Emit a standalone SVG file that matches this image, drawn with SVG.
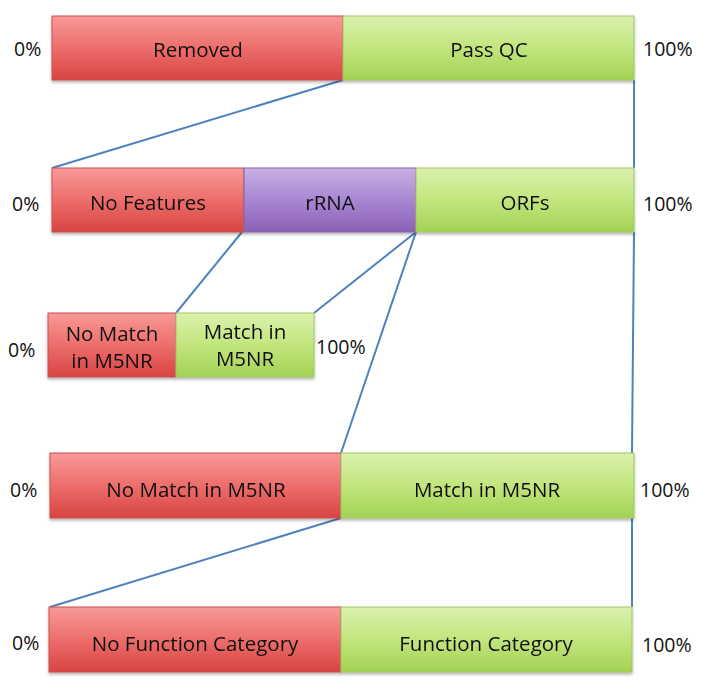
<svg xmlns="http://www.w3.org/2000/svg" width="703" height="699" viewBox="0 0 703 699">
<defs>
<linearGradient id="gr" x1="0" y1="0" x2="0" y2="1"><stop offset="0" stop-color="#f89a98"/><stop offset="0.5" stop-color="#ec6e6c"/><stop offset="1" stop-color="#d84442"/></linearGradient>
<linearGradient id="gg" x1="0" y1="0" x2="0" y2="1"><stop offset="0" stop-color="#d9f2ae"/><stop offset="0.5" stop-color="#c2e57e"/><stop offset="1" stop-color="#a3d253"/></linearGradient>
<linearGradient id="gp" x1="0" y1="0" x2="0" y2="1"><stop offset="0" stop-color="#c8b0e6"/><stop offset="0.5" stop-color="#a887d2"/><stop offset="1" stop-color="#8a60b6"/></linearGradient>
<filter id="sh" x="-5%" y="-10%" width="110%" height="130%"><feDropShadow dx="0" dy="2" stdDeviation="1.5" flood-color="#000" flood-opacity="0.3"/></filter>
</defs>
<style>
.r{fill:url(#gr);stroke:#c9504e;stroke-width:1}
.g{fill:url(#gg);stroke:#a4c466;stroke-width:1}
.p{fill:url(#gp);stroke:#8664a8;stroke-width:1}
text{font-family:"Open Sans","Liberation Sans",sans-serif;font-size:20.5px;fill:#111;text-anchor:middle;dominant-baseline:central}
.pc{text-anchor:start;font-size:19.5px}
.c{stroke:#4f81bd;stroke-width:2;fill:none}
</style>
<g id="connectors">
<line class="c" x1="343" y1="80" x2="52" y2="168"/>
<line class="c" x1="634" y1="80" x2="634" y2="168"/>
<line class="c" x1="242" y1="232" x2="176" y2="313"/>
<line class="c" x1="416" y1="232" x2="314" y2="313"/>
<line class="c" x1="416" y1="232" x2="341" y2="453"/>
<line class="c" x1="634" y1="232" x2="632" y2="453"/>
<line class="c" x1="341" y1="518" x2="50" y2="607"/>
<line class="c" x1="632" y1="518" x2="632" y2="607"/>
</g>
<g id="row1" filter="url(#sh)">
<g id="removed"><rect class="r" x="52" y="16" width="291" height="64"/><text x="198" y="49">Removed</text></g>
<g id="passqc"><rect class="g" x="343" y="16" width="291" height="64"/><text x="489" y="49">Pass QC</text></g>
</g>
<g id="row2" filter="url(#sh)">
<g id="nofeatures"><rect class="r" x="52" y="168" width="192" height="64"/><text x="148" y="202">No Features</text></g>
<g id="rrna"><rect class="p" x="244" y="168" width="172" height="64"/><text x="330" y="202">rRNA</text></g>
<g id="orfs"><rect class="g" x="416" y="168" width="218" height="64"/><text x="525" y="202">ORFs</text></g>
</g>
<g id="row3" filter="url(#sh)">
<g id="nomatch1"><rect class="r" x="48" y="313" width="128" height="64"/><text x="112" y="333">No Match</text><text x="112" y="360">in M5NR</text></g>
<g id="match1"><rect class="g" x="176" y="313" width="138" height="64"/><text x="245" y="331">Match in</text><text x="245" y="358">M5NR</text></g>
</g>
<g id="row4" filter="url(#sh)">
<g id="nomatch2"><rect class="r" x="50" y="453" width="291" height="65"/><text x="196" y="489">No Match in M5NR</text></g>
<g id="match2"><rect class="g" x="341" y="453" width="293" height="65"/><text x="487" y="489">Match in M5NR</text></g>
</g>
<g id="row5" filter="url(#sh)">
<g id="nofunc"><rect class="r" x="49" y="607" width="292" height="65"/><text x="195" y="643">No Function Category</text></g>
<g id="func"><rect class="g" x="341" y="607" width="291" height="65"/><text x="486" y="643">Function Category</text></g>
</g>
<g id="labels">
<text class="pc" x="14" y="48">0%</text><text class="pc" x="643" y="48">100%</text>
<text class="pc" x="12" y="203">0%</text><text class="pc" x="643" y="203">100%</text>
<text class="pc" x="8" y="349">0%</text><text class="pc" x="316" y="346">100%</text>
<text class="pc" x="10" y="489">0%</text><text class="pc" x="640" y="489">100%</text>
<text class="pc" x="12" y="642">0%</text><text class="pc" x="642" y="644">100%</text>
</g>
</svg>
